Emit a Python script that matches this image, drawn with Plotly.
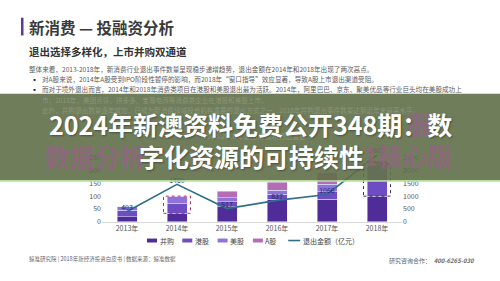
import plotly.graph_objects as go

# ---------------- data ----------------
years = ["2013年", "2014年", "2015年", "2016年", "2017年", "2018年"]
merger = [19, 33, 58, 88, 88, 100]        # 并购
hk = [27, 40, 20, 20, 30, 60]             # 港股
us = [12, 27, 15, 15, 28, 65]             # 美股
ashare = [0, 0, 27, 31, 46, 13]           # A股
amount = [403, 1460, 517, 837, 1066, 2600]  # 退出金额（亿元）

series_names = ["并购", "港股", "美股", "A股"]
series_colors = ["#4f2c98", "#6d4cc4", "#8f72da", "#b46cb4"]
line_name = "退出金额（亿元）"
line_color = "#2f6f8c"

left_ticks = [0, 50, 100, 150, 200, 250]
right_ticks = [0, 500, 1000, 1500, 2000, 2500]

FONT = "Noto Sans CJK SC"
W, H = 500, 281


def px(x):
    return x / W


def py(y):
    return 1 - y / H


fig = go.Figure()
for name, vals, col in zip(series_names, [merger, hk, us, ashare], series_colors):
    fig.add_trace(go.Bar(x=years, y=vals, name=name, marker_color=col,
                         width=0.4, showlegend=False))

fig.add_trace(go.Scatter(x=years, y=amount, name=line_name, yaxis="y2",
                         mode="lines+text", text=[str(v) for v in amount],
                         textposition="top center",
                         textfont=dict(size=7, color="#2a2566", family=FONT),
                         line=dict(color=line_color, width=1.6), showlegend=False))

shapes = []
annotations = []

# dashed highlight boxes (2014, 2018) around 港股+美股 segments
for i in (1, 5):
    shapes.append(dict(type="rect", xref="x", yref="y",
                       x0=i - 0.27, x1=i + 0.27,
                       y0=merger[i], y1=merger[i] + hk[i] + us[i],
                       line=dict(color="#b0307e" if i == 1 else "#3b2a70", width=1, dash="dot"),
                       fillcolor="rgba(0,0,0,0)"))

# header accent bar
shapes.append(dict(type="rect", xref="paper", yref="paper",
                   x0=px(21), x1=px(23.5), y0=py(36), y1=py(18),
                   fillcolor="#5a3a98", line_width=0))

# manual legend
leg_y = 244
x0 = 147
step = 35.3
for k, (name, col) in enumerate(zip(series_names, series_colors)):
    sx = x0 + k * step
    shapes.append(dict(type="rect", xref="paper", yref="paper",
                       x0=px(sx), x1=px(sx + 10), y0=py(leg_y + 2), y1=py(leg_y - 2),
                       fillcolor=col, line_width=0))
    annotations.append(dict(text=name, x=px(sx + 10.5), y=py(leg_y), xref="paper", yref="paper",
                            xanchor="left", yanchor="middle", showarrow=False,
                            font=dict(size=7, color="#444", family=FONT)))
sx = x0 + 4 * step
shapes.append(dict(type="line", xref="paper", yref="paper",
                   x0=px(sx), x1=px(sx + 12), y0=py(leg_y), y1=py(leg_y),
                   line=dict(color=line_color, width=1.6)))
annotations.append(dict(text=line_name, x=px(sx + 12.5), y=py(leg_y), xref="paper", yref="paper",
                        xanchor="left", yanchor="middle", showarrow=False,
                        font=dict(size=7, color="#444", family=FONT)))

# overlay band
shapes.append(dict(type="rect", xref="paper", yref="paper",
                   x0=0, x1=1, y0=py(183), y1=py(95),
                   fillcolor="rgba(96,111,73,0.9)", line_width=0, layer="above"))
shapes.append(dict(type="line", xref="paper", yref="paper",
                   x0=0, x1=1, y0=py(183.5), y1=py(183.5),
                   line=dict(color="#b4e49a", width=1.5), layer="above"))


def txt(t, x, y, size, color, anchor="left", bold=False, shadow=None):
    f = dict(size=size, color=color, family=FONT)
    if bold:
        f["weight"] = "bold"
    if shadow:
        f["shadow"] = shadow
    annotations.append(dict(text=t, x=px(x), y=py(y), xref="paper", yref="paper",
                            xanchor=anchor, yanchor="middle", showarrow=False, font=f))


# slide header and body
txt("新消费 — 投融资分析", 27, 27, 15.5, "#3a3a3a", bold=True)
txt("退出选择多样化，上市并购双通道", 27, 52, 10.5, "#333", bold=True)
body = "#5a5a5a"
bs = 6.6
txt("整体来看，2013-2018年，新消费行业退出事件数量呈现稳步递增趋势，退出金额在2014年和2018年出现了两次高点。", 27, 70, bs, body)
txt("▪", 29, 80, 7, "#223")
txt("对A股来说，2014年A股受到IPO阶段性暂停的影响，而2018年“窗口指导”效应显著，导致A股上市退出渠道受阻。", 40, 80, bs, body)
txt("▪", 29, 90, 7, "#223")
txt("而对于境外退出而言，2014年和2018年消费类项目在港股和美股退出最为活跃。2014年，阿里巴巴、京东、聚美优品等行业巨头均在美股成功上", 40, 90, bs, body)

# faint content under band
faint = "rgba(210,215,200,0.28)"
txt("市；2018年，美团点评、拼多多、宝尊电商等消费类企业在港股和美股上市。", 40, 101, bs, faint)
txt("此外，并购退出数量逐年增加，已成为新消费领域投资机构重要的退出方式之一，2018年并购退出事件数量达到近年来最高水平。", 40, 112, bs, faint)
txt("2013-2018年退出规模和退出金额", 255, 138, 7, faint, anchor="center")

# pink blurred secondary title
pink = "rgba(152,96,138,0.7)"
txt("数据分析", 95, 158, 25, pink, anchor="center", bold=True)
txt("1核心版", 408, 157, 25, pink, anchor="center", bold=True)
txt("服", 419, 125, 25, pink, anchor="center", bold=True)

# main white title
shadow = "1px 1px 2px rgba(0,0,0,0.35)"
txt("2024年新澳资料免费公开348期：数", 250, 126, 25, "#ffffff", anchor="center", bold=True, shadow=shadow)
txt("字化资源的可持续性", 251, 158, 25, "#ffffff", anchor="center", bold=True, shadow=shadow)

# footer
txt("鲸准研究院 | 2018年新经济投资白皮书 | 数据来源：鲸准数据", 27, 263, 5.5, "#666")
txt("研究咨询合作：  <b><i>400-6265-030</i></b>", 387, 264, 6, "#666")

fig.update_layout(
    width=W, height=H, autosize=False,
    margin=dict(l=0, r=0, t=0, b=0, pad=0),
    paper_bgcolor="#ffffff", plot_bgcolor="#ffffff",
    barmode="stack",
    font=dict(family=FONT, size=7, color="#555"),
    xaxis=dict(domain=[px(102), px(402)], type="category", range=[-0.5, 5.5],
               showgrid=False, zeroline=False, showline=True, linecolor="#d9d9d9",
               ticks="", tickfont=dict(size=7, color="#555")),
    yaxis=dict(domain=[py(225), py(147)], range=[0, 300], tickvals=left_ticks,
               showgrid=False, zeroline=False, ticks="", showticklabels=True,
               tickfont=dict(size=7, color="#555")),
    yaxis2=dict(overlaying="y", side="right", range=[0, 3000], tickvals=right_ticks,
                showgrid=False, zeroline=False, ticks="", showticklabels=True,
                tickfont=dict(size=7, color="#555"), anchor="x"),
    shapes=shapes,
    annotations=annotations,
    showlegend=False,
)

fig.write_html("out.html")
